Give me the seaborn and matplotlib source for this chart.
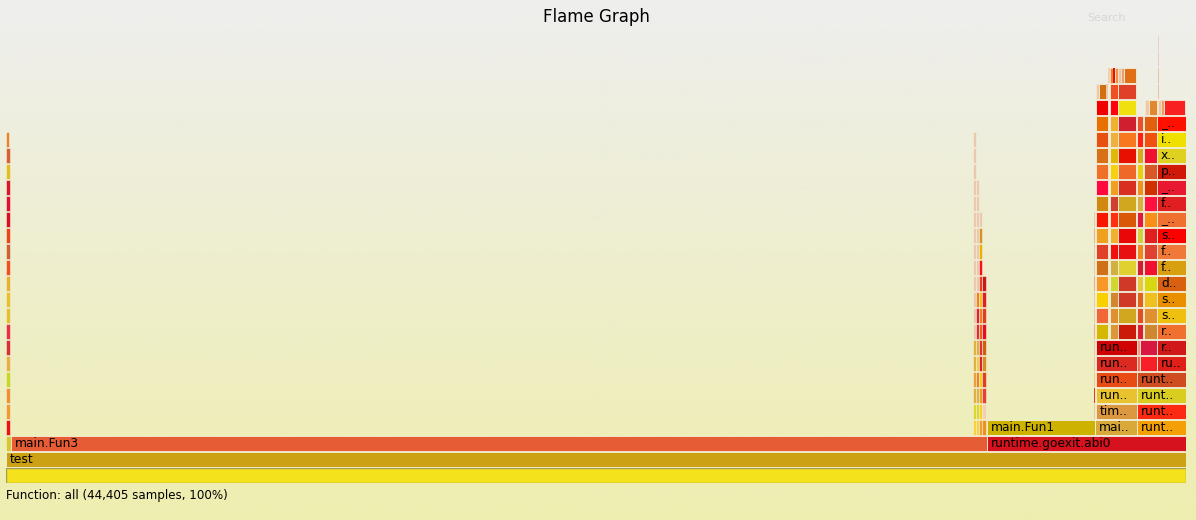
import numpy as np
import pandas as pd
import matplotlib
matplotlib.use("Agg")
import matplotlib.pyplot as plt
import seaborn as sns

TOTAL = 44405  # samples
N_LEVELS = 28
PALE = "#ebc9ae"

# bottom frames: all / test / main.Fun3 / runtime.goexit.abi0 / main.Fun1
base_names = ["all", "test", "", "main.Fun3", "runtime.goexit.abi0", "main.Fun1"]
base_levels = [0, 1, 2, 2, 2, 3]
base_starts = [0, 0, 0, 188, 36916, 36916]
base_widths = [44405, 44405, 188, 36728, 7489, 4064]
base_colors = ["#f4e21c", "#cda114", "#d8c830", "#e65c35", "#d6121e", "#cdb300"]

# thin stack on the far left, levels 3..21
left_widths = [151] * 18 + [113]
left_colors = ["#f01010", "#f09a30", "#f09030", "#c8d820", "#e8b040", "#d83030",
               "#e83040", "#e0c030", "#e8c028", "#e8b030", "#f05020", "#d06030",
               "#e84818", "#d81020", "#e01030", "#d81828", "#e0c020", "#d86030",
               "#e88030"]

# thin stack at the right end of main.Fun3, four sub-columns from level 3
mid_starts = [36389, 36502, 36615, 36728]
mid_widths = [113, 113, 113, 150]
mid_colors = [
    ["#f8d040", "#d8d830", "#e0b040", "#e8a040", "#e0b040", "#e0b040"] + [PALE] * 13,
    ["#f8d040", "#d8d830", "#e0b040", "#f08020", "#f0d040", "#e0b040",
     "#e03030", "#e02030", "#f08020"] + [PALE] * 7,
    ["#e8a030", "#f8d020", "#e8a020", "#f0d020", "#e02030", "#e03030",
     "#f06020", "#f08020", "#f0c020", "#e84020", "#ff1010", "#e8b000",
     "#d89020", PALE],
    ["#f09020", "#f0d0b0", "#e84030", "#e04020", "#d89020", "#d06010",
     "#e01020", "#e04020", "#e02020", "#c81818"],
]

# right tower, levels 3..8
rl_names = ["mai..", "tim..", "run..", "run..", "run..", "run..",
            "runt..", "runt..", "runt..", "runt..",
            "", "", "ru..", "", "", "r.."]
rl_levels = [3, 4, 5, 6, 7, 8, 3, 4, 5, 6, 7, 7, 7, 8, 8, 8]
rl_starts = [40980, 41018, 41018, 41018, 41018, 41018,
             42560, 42560, 42560, 42560,
             42560, 42673, 43313, 42560, 42673, 43313]
rl_widths = [1580, 1542, 1542, 1542, 1542, 1542,
             1845, 1845, 1845, 1845,
             113, 640, 1092, 113, 640, 1092]
rl_colors = ["#d8a838", "#dc9840", "#e9c22f", "#e84c14", "#da2a22", "#cf0303",
             "#f59f06", "#fd2a12", "#d9cd20", "#cf4c20",
             "#e87050", "#f82028", "#e02018", "#e8a080", "#d81840", "#d01818"]

# right tower, six columns from level 9
rc_starts = [41018, 41545, 41846, 42560, 42842, 43313]
rc_widths = [452, 301, 696, 245, 471, 1092]
rc_colors = [
    ["#d4b800", "#f06838", "#f8d000", "#f89828", "#d07018", "#e04028", "#f0a020",
     "#f81800", "#d08810", "#ff0840", "#f07028", "#d87018", "#e85010", "#e87000",
     "#f00000"],
    ["#d89838", "#e09030", "#d08830", "#d0d830", "#d0b040", "#f01010", "#f0b030",
     "#ff3010", "#d04030", "#f0a020", "#f8d010", "#e0b808", "#f0b040", "#f0b030",
     "#ff0010"],
    ["#cc1a0a", "#d0a820", "#d03828", "#d03828", "#e0d030", "#e81010", "#e80808",
     "#d85808", "#d0a820", "#d83020", "#f06828", "#e81000", "#f87820", "#d02030",
     "#f0e010"],
    ["#d82030", "#e05020", "#e06020", "#e8c840", "#d02030", "#f08820", "#d0d040",
     "#e01840", "#d8b040", "#f09020", "#e8d010", "#d8a820", "#ff2010", "#e85030"],
    ["#d08830", "#e09030", "#f0c020", "#d8d810", "#f01030", "#e04030", "#e02020",
     "#f89018", "#ff1040", "#d03000", "#d85828", "#f01030", "#f05010", "#e06010"],
    ["#f07030", "#f0c010", "#e89000", "#d86010", "#d8a010", "#f07838", "#ff0000",
     "#f07030", "#e02020", "#e81830", "#d01808", "#e0d020", "#f0e000", "#ff1000"],
]
rc_labels_g = ["r..", "s..", "s..", "d..", "f..", "f..", "s..", "_..", "f..",
               "_..", "p..", "x..", "i..", "_.."]

# small frames at the top of the right tower
top_levels = [23, 23, 23, 23, 23, 24, 24, 24, 24, 24,
              25, 25, 25, 25, 25, 25, 25, 24, 25, 26, 27]
top_starts = [42861, 43012, 43351, 43464, 43576, 41018, 41130, 41394, 41545, 41846,
              41469, 41545, 41658, 41733, 41846, 41958, 42071, 43351, 43351, 43351, 43351]
top_widths = [151, 301, 113, 113, 790, 113, 264, 75, 301, 678,
              75, 113, 75, 113, 113, 113, 452, 45, 45, 45, 45]
top_colors = ["#efc9a6", "#e08830", "#f0c4a4", "#e8a060", "#f82020",
              "#efc8a0", "#d07010", "#f0c8a8", "#f05020", "#e04028",
              "#f0d0b8", "#f08020", "#e01010", "#f09040", "#f0c0a0", "#e8a070",
              "#e07018", "#efbcb0", "#efbcb0", "#f0c8c0", "#f0cec6"]

# slivers at the right edge of main.Fun1
sliver_levels = list(range(4, 17))
sliver_colors = [PALE, "#f03030", PALE, PALE, PALE, "#f0a890", PALE,
                 PALE, "#f0a890", PALE, PALE, "#f0b090", PALE]

# ---- collect every frame into one table
rows = []
for n, l, s, w, c in zip(base_names, base_levels, base_starts, base_widths, base_colors):
    rows.append((l, s, w, n, c))
for i, (w, c) in enumerate(zip(left_widths, left_colors)):
    rows.append((3 + i, 0, w, "", c))
for s, w, cols in zip(mid_starts, mid_widths, mid_colors):
    for i, c in enumerate(cols):
        rows.append((3 + i, s, w, "", c))
for n, l, s, w, c in zip(rl_names, rl_levels, rl_starts, rl_widths, rl_colors):
    rows.append((l, s, w, n, c))
for k, (s, w, cols) in enumerate(zip(rc_starts, rc_widths, rc_colors)):
    for i, c in enumerate(cols):
        name = rc_labels_g[i] if k == 5 else ""
        rows.append((9 + i, s, w, name, c))
for l, s, w, c in zip(top_levels, top_starts, top_widths, top_colors):
    rows.append((l, s, w, "", c))
for l, c in zip(sliver_levels, sliver_colors):
    rows.append((l, 40942, 56, "", c))

frames = pd.DataFrame(rows, columns=["level", "start", "width", "name", "color"])

sns.set_theme(style="white")
plt.rcParams["font.family"] = ["DejaVu Sans"]

fig = plt.figure(figsize=(11.96, 5.2), dpi=100)

# background gradient like flamegraph.pl
bg = fig.add_axes([0, 0, 1, 1])
grad = np.linspace(0, 1, 256)[:, None]
top_rgb = np.array([0xee, 0xee, 0xee]) / 255
bot_rgb = np.array([0xee, 0xee, 0xb0]) / 255
img = top_rgb[None, None, :] * (1 - grad[..., None]) + bot_rgb[None, None, :] * grad[..., None]
bg.imshow(img, aspect="auto", extent=[0, 1, 0, 1])
bg.set_axis_off()

ax = fig.add_axes([6 / 1196, 37 / 520, 1180 / 1196, 448 / 520])
ax.patch.set_alpha(0)
ax.set_xlim(0, TOTAL)
ax.set_ylim(0, N_LEVELS)
ax.set_axis_off()

for r in frames.itertuples():
    if r.name == "all":
        edge, lw = "#a39c52", 1.0
    elif r.width < 80:
        edge, lw = "none", 0
    elif r.width < 200:
        edge, lw = "#f3f0dc", 0.4
    else:
        edge, lw = "#f3f0dc", 0.6
    ax.barh(r.level, r.width, left=r.start, height=15 / 16, align="edge",
            color=r.color, edgecolor=edge, linewidth=lw)
    if r.name and r.name != "all":
        ax.annotate(r.name, (r.start, r.level + 0.47), xytext=(2.9, 0),
                    textcoords="offset points", va="center", ha="left",
                    fontsize=8.8, color="#000000")

fig.text(596 / 1196, 1 - 17 / 520, "Flame Graph", ha="center", va="center",
         fontsize=12, color="#000000")
fig.text(1107 / 1196, 1 - 18 / 520, "Search", ha="center", va="center",
         fontsize=8, color="#d6d6d6")
fig.text(6 / 1196, 1 - 495 / 520, "Function: all (44,405 samples, 100%)",
         ha="left", va="center", fontsize=8.6, color="#000000")

fig.savefig("out.png", dpi=100)
